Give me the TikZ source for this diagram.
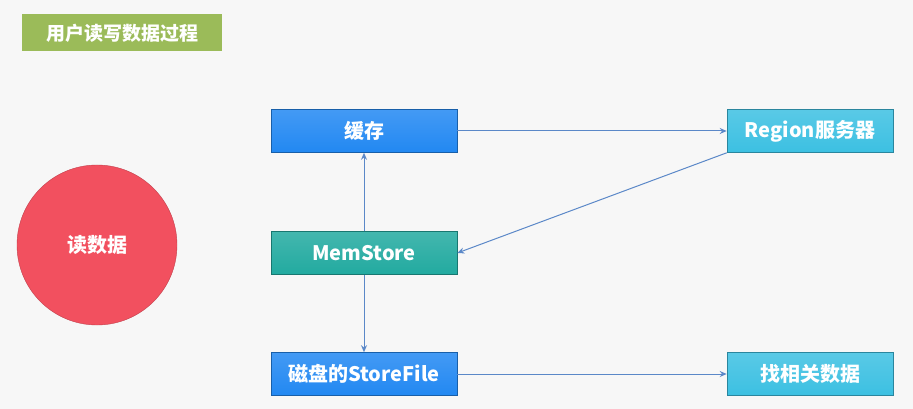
\documentclass[tikz,border=0pt]{standalone}
\usepackage{fontspec}
\setmainfont{Noto Sans CJK SC}
\usetikzlibrary{arrows.meta}
\definecolor{bgc}{HTML}{F7F7F7}
\definecolor{bluec}{HTML}{2288F2}
\definecolor{cyanc}{HTML}{3CC0E2}
\definecolor{tealc}{HTML}{22AAA0}
\definecolor{redc}{HTML}{F2505F}
\definecolor{olivec}{HTML}{9BBB59}
\definecolor{arrc}{HTML}{5B88C8}
\tikzset{
  boxn/.style={minimum width=186pt,minimum height=43pt,inner sep=0pt,text=white,font=\bfseries\fontsize{20}{24}\selectfont,draw=#1!70!black,line width=0.6pt,top color=#1!85!white,bottom color=#1},
  conn/.style={draw=arrc,line width=1pt,-{Stealth[length=7pt,width=6pt]}}
}
\begin{document}
\begin{tikzpicture}[x=1pt,y=-1pt]
\fill[bgc] (0,0) rectangle (913,409);
\useasboundingbox (0,0) rectangle (913,409);
\node[fill=olivec,minimum width=200pt,minimum height=37pt,text=white,font=\bfseries\fontsize{19}{22}\selectfont] (title) at (122,33) {用户读写数据过程};
\node[circle,minimum size=160pt,inner sep=0pt,fill=redc,draw=redc!80!black,text=white,font=\bfseries\fontsize{20}{24}\selectfont] (read) at (97,245) {读数据};
\node[boxn=bluec] (cache) at (364,131) {缓存};
\node[boxn=cyanc,minimum width=166pt] (region) at (810,131) {Region服务器};
\node[boxn=tealc] (mem) at (364,253) {MemStore};
\node[boxn=bluec] (disk) at (364,374) {磁盘的StoreFile};
\node[boxn=cyanc,minimum width=166pt] (find) at (810,374) {找相关数据};
\draw[conn] (cache.east) -- (region.west);
\draw[conn] (region.south west) -- (mem.east);
\draw[conn] (mem.north) -- (cache.south);
\draw[conn] (mem.south) -- (disk.north);
\draw[conn] (disk.east) -- (find.west);
\end{tikzpicture}
\end{document}
